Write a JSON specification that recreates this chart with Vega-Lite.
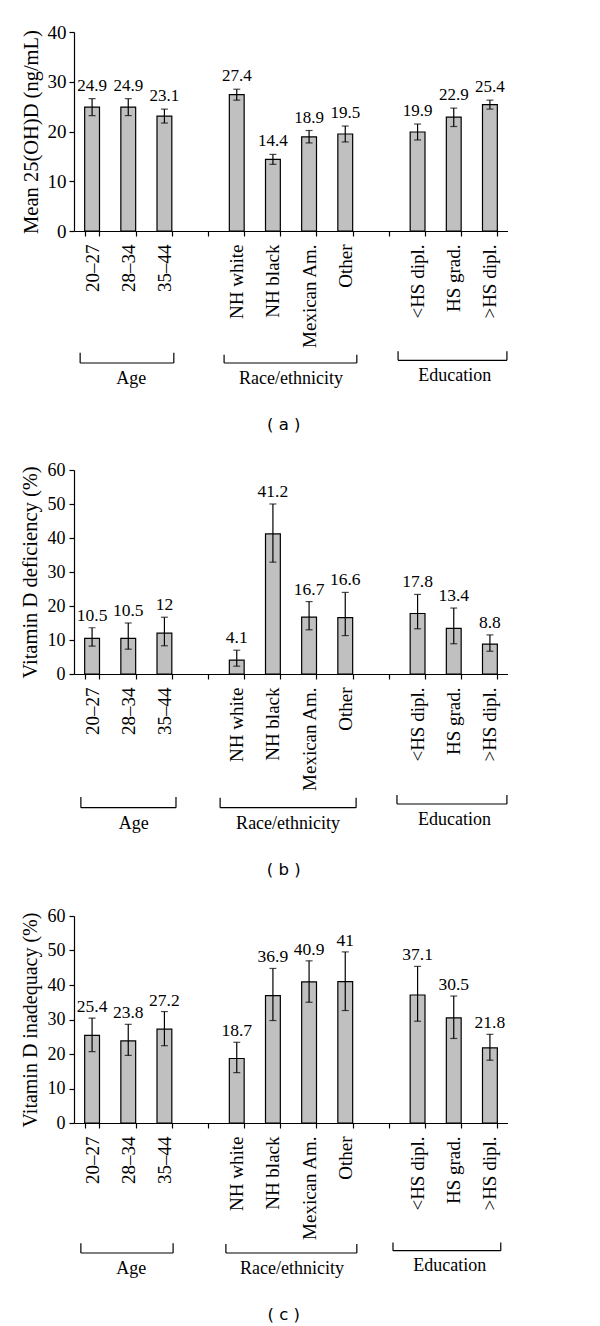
{
  "$schema": "https://vega.github.io/schema/vega-lite/v6.json",
  "padding": {"left": 20, "top": 23, "right": 0, "bottom": 0},
  "spacing": 0,
  "background": "white",
  "config": {
    "view": {"stroke": null},
    "font": "Liberation Serif",
    "axis": {"domainColor": "black", "tickColor": "black", "labelColor": "black", "titleColor": "black", "grid": false, "labelFont": "Liberation Serif", "titleFont": "Liberation Serif", "titleFontWeight": "normal", "domainWidth": 1.2, "tickWidth": 1.2}
  },
  "resolve": {"scale": {"x": "independent", "y": "independent"}},
  "datasets": {
    "bars": [
      {"panel": "a", "cat": "20–27", "value": 24.9, "lo": 23.2, "hi": 26.6, "label": "24.9"},
      {"panel": "a", "cat": "28–34", "value": 24.9, "lo": 23.2, "hi": 26.6, "label": "24.9"},
      {"panel": "a", "cat": "35–44", "value": 23.1, "lo": 21.7, "hi": 24.5, "label": "23.1"},
      {"panel": "a", "cat": "NH white", "value": 27.4, "lo": 26.3, "hi": 28.5, "label": "27.4"},
      {"panel": "a", "cat": "NH black", "value": 14.4, "lo": 13.4, "hi": 15.4, "label": "14.4"},
      {"panel": "a", "cat": "Mexican Am.", "value": 18.9, "lo": 17.7, "hi": 20.2, "label": "18.9"},
      {"panel": "a", "cat": "Other", "value": 19.5, "lo": 17.9, "hi": 21.1, "label": "19.5"},
      {"panel": "a", "cat": "<HS dipl.", "value": 19.9, "lo": 18.3, "hi": 21.5, "label": "19.9"},
      {"panel": "a", "cat": "HS grad.", "value": 22.9, "lo": 21.0, "hi": 24.7, "label": "22.9"},
      {"panel": "a", "cat": ">HS dipl.", "value": 25.4, "lo": 24.5, "hi": 26.3, "label": "25.4"},
      {"panel": "b", "cat": "20–27", "value": 10.5, "lo": 8.2, "hi": 13.6, "label": "10.5"},
      {"panel": "b", "cat": "28–34", "value": 10.5, "lo": 7.3, "hi": 15.0, "label": "10.5"},
      {"panel": "b", "cat": "35–44", "value": 12, "lo": 8.3, "hi": 16.7, "label": "12"},
      {"panel": "b", "cat": "NH white", "value": 4.1, "lo": 2.3, "hi": 7.0, "label": "4.1"},
      {"panel": "b", "cat": "NH black", "value": 41.2, "lo": 32.9, "hi": 50.0, "label": "41.2"},
      {"panel": "b", "cat": "Mexican Am.", "value": 16.7, "lo": 13.0, "hi": 21.3, "label": "16.7"},
      {"panel": "b", "cat": "Other", "value": 16.6, "lo": 11.3, "hi": 24.0, "label": "16.6"},
      {"panel": "b", "cat": "<HS dipl.", "value": 17.8, "lo": 13.3, "hi": 23.4, "label": "17.8"},
      {"panel": "b", "cat": "HS grad.", "value": 13.4, "lo": 8.9, "hi": 19.4, "label": "13.4"},
      {"panel": "b", "cat": ">HS dipl.", "value": 8.8, "lo": 6.7, "hi": 11.5, "label": "8.8"},
      {"panel": "c", "cat": "20–27", "value": 25.4, "lo": 20.7, "hi": 30.4, "label": "25.4"},
      {"panel": "c", "cat": "28–34", "value": 23.8, "lo": 19.6, "hi": 28.6, "label": "23.8"},
      {"panel": "c", "cat": "35–44", "value": 27.2, "lo": 22.4, "hi": 32.3, "label": "27.2"},
      {"panel": "c", "cat": "NH white", "value": 18.7, "lo": 14.6, "hi": 23.4, "label": "18.7"},
      {"panel": "c", "cat": "NH black", "value": 36.9, "lo": 29.7, "hi": 44.8, "label": "36.9"},
      {"panel": "c", "cat": "Mexican Am.", "value": 40.9, "lo": 35.0, "hi": 47.0, "label": "40.9"},
      {"panel": "c", "cat": "Other", "value": 41, "lo": 32.6, "hi": 49.6, "label": "41"},
      {"panel": "c", "cat": "<HS dipl.", "value": 37.1, "lo": 29.5, "hi": 45.4, "label": "37.1"},
      {"panel": "c", "cat": "HS grad.", "value": 30.5, "lo": 24.5, "hi": 36.8, "label": "30.5"},
      {"panel": "c", "cat": ">HS dipl.", "value": 21.8, "lo": 18.2, "hi": 25.7, "label": "21.8"}
    ],
    "brackets": [
      {"panel": "a", "x1": 0.17, "x2": 2.76, "y1": 14, "y2": 14},
      {"panel": "a", "x1": 0.17, "x2": 0.17, "y1": 3.7, "y2": 14},
      {"panel": "a", "x1": 2.76, "x2": 2.76, "y1": 3.7, "y2": 14},
      {"panel": "a", "x1": 4.15, "x2": 7.82, "y1": 14, "y2": 14},
      {"panel": "a", "x1": 4.15, "x2": 4.15, "y1": 5.7, "y2": 14},
      {"panel": "a", "x1": 7.82, "x2": 7.82, "y1": 5.7, "y2": 14},
      {"panel": "a", "x1": 8.96, "x2": 11.97, "y1": 11.3, "y2": 11.3},
      {"panel": "a", "x1": 8.96, "x2": 8.96, "y1": 2.3, "y2": 11.3},
      {"panel": "a", "x1": 11.97, "x2": 11.97, "y1": 2.3, "y2": 11.3},
      {"panel": "b", "x1": 0.19, "x2": 2.82, "y1": 15.7, "y2": 15.7},
      {"panel": "b", "x1": 0.19, "x2": 0.19, "y1": 5, "y2": 15.7},
      {"panel": "b", "x1": 2.82, "x2": 2.82, "y1": 5, "y2": 15.7},
      {"panel": "b", "x1": 4.04, "x2": 7.8, "y1": 15.7, "y2": 15.7},
      {"panel": "b", "x1": 4.04, "x2": 4.04, "y1": 5.7, "y2": 15.7},
      {"panel": "b", "x1": 7.8, "x2": 7.8, "y1": 5.7, "y2": 15.7},
      {"panel": "b", "x1": 8.93, "x2": 11.97, "y1": 12, "y2": 12},
      {"panel": "b", "x1": 8.93, "x2": 8.93, "y1": 3, "y2": 12},
      {"panel": "b", "x1": 11.97, "x2": 11.97, "y1": 3, "y2": 12},
      {"panel": "c", "x1": 0.19, "x2": 2.74, "y1": 11, "y2": 11},
      {"panel": "c", "x1": 0.19, "x2": 0.19, "y1": 1.3, "y2": 11},
      {"panel": "c", "x1": 2.74, "x2": 2.74, "y1": 1.3, "y2": 11},
      {"panel": "c", "x1": 4.2, "x2": 7.82, "y1": 11, "y2": 11},
      {"panel": "c", "x1": 4.2, "x2": 4.2, "y1": 2, "y2": 11},
      {"panel": "c", "x1": 7.82, "x2": 7.82, "y1": 2, "y2": 11},
      {"panel": "c", "x1": 8.82, "x2": 11.8, "y1": 8.7, "y2": 8.7},
      {"panel": "c", "x1": 8.82, "x2": 8.82, "y1": 0.5, "y2": 8.7},
      {"panel": "c", "x1": 11.8, "x2": 11.8, "y1": 0.5, "y2": 8.7}
    ],
    "labels": [
      {"panel": "a", "kind": "group", "x": 1.58, "y": 30, "text": "Age"},
      {"panel": "a", "kind": "group", "x": 6.0, "y": 30, "text": "Race/ethnicity"},
      {"panel": "a", "kind": "group", "x": 10.53, "y": 27.3, "text": "Education"},
      {"panel": "a", "kind": "caption", "x": 5.8, "y": 76, "text": "( a )"},
      {"panel": "b", "kind": "group", "x": 1.65, "y": 32, "text": "Age"},
      {"panel": "b", "kind": "group", "x": 5.92, "y": 32, "text": "Race/ethnicity"},
      {"panel": "b", "kind": "group", "x": 10.52, "y": 28, "text": "Education"},
      {"panel": "b", "kind": "caption", "x": 5.8, "y": 78, "text": "( b )"},
      {"panel": "c", "kind": "group", "x": 1.58, "y": 27, "text": "Age"},
      {"panel": "c", "kind": "group", "x": 6.03, "y": 27, "text": "Race/ethnicity"},
      {"panel": "c", "kind": "group", "x": 10.39, "y": 23.7, "text": "Education"},
      {"panel": "c", "kind": "caption", "x": 5.8, "y": 73, "text": "( c )"}
    ]
  },
  "vconcat": [
    {
      "width": 434, "height": 199,
      "data": {"name": "bars"},
      "transform": [{"filter": "datum.panel === 'a'"}],
      "encoding": {
        "x": {"field": "cat", "type": "nominal", "sort": null,
          "scale": {"domain": ["20–27", "28–34", "35–44", "gap1", "NH white", "NH black", "Mexican Am.", "Other", "gap2", "<HS dipl.", "HS grad.", ">HS dipl."], "paddingInner": 0.59, "paddingOuter": 0.295},
          "axis": {"title": null, "labelAngle": -90, "labelFontSize": 19, "labelPadding": 8, "tickSize": 5, "tickBand": "extent", "labelOverlap": false, "labelExpr": "indexof(datum.label, 'gap') === 0 ? '' : datum.label"}}
      },
      "layer": [
        {"mark": {"type": "bar", "fill": "#c0c0c0", "stroke": "black", "strokeWidth": 1.2},
         "encoding": {"y": {"field": "value", "type": "quantitative", "scale": {"domain": [0, 40], "nice": false},
           "axis": {"title": "Mean 25(OH)D (ng/mL)", "titleFontSize": 20.5, "labelFontSize": 19, "values": [0, 10, 20, 30, 40], "labelOverlap": false, "tickSize": 5, "labelPadding": 3, "titlePadding": 6}}}},
        {"mark": {"type": "rule", "color": "black", "strokeWidth": 1.2},
         "encoding": {"y": {"field": "lo", "type": "quantitative", "axis": {"title": "Mean 25(OH)D (ng/mL)", "titleFontSize": 20.5, "labelFontSize": 19, "values": [0, 10, 20, 30, 40], "labelOverlap": false, "tickSize": 5, "labelPadding": 3, "titlePadding": 6}}, "y2": {"field": "hi"}}},
        {"mark": {"type": "tick", "color": "black", "size": 7, "thickness": 1.2},
         "encoding": {"y": {"field": "lo", "type": "quantitative", "axis": {"title": "Mean 25(OH)D (ng/mL)", "titleFontSize": 20.5, "labelFontSize": 19, "values": [0, 10, 20, 30, 40], "labelOverlap": false, "tickSize": 5, "labelPadding": 3, "titlePadding": 6}}}},
        {"mark": {"type": "tick", "color": "black", "size": 7, "thickness": 1.2},
         "encoding": {"y": {"field": "hi", "type": "quantitative", "axis": {"title": "Mean 25(OH)D (ng/mL)", "titleFontSize": 20.5, "labelFontSize": 19, "values": [0, 10, 20, 30, 40], "labelOverlap": false, "tickSize": 5, "labelPadding": 3, "titlePadding": 6}}}},
        {"mark": {"type": "text", "baseline": "alphabetic", "dy": -8, "fontSize": 17, "font": "Liberation Serif", "color": "black"},
         "encoding": {"y": {"field": "hi", "type": "quantitative", "axis": {"title": "Mean 25(OH)D (ng/mL)", "titleFontSize": 20.5, "labelFontSize": 19, "values": [0, 10, 20, 30, 40], "labelOverlap": false, "tickSize": 5, "labelPadding": 3, "titlePadding": 6}}, "text": {"field": "label"}}}
      ]
    },
    {
      "width": 434, "height": 112,
      "layer": [
        {"data": {"name": "brackets"}, "transform": [{"filter": "datum.panel === 'a'"}],
         "mark": {"type": "rule", "color": "black", "strokeWidth": 1.2},
         "encoding": {
           "x": {"field": "x1", "type": "quantitative", "scale": {"domain": [0, 12], "nice": false, "zero": false}, "axis": null},
           "x2": {"field": "x2"},
           "y": {"field": "y1", "type": "quantitative", "scale": {"domain": [0, 112], "reverse": true, "nice": false, "zero": false}, "axis": null},
           "y2": {"field": "y2"}}},
        {"data": {"name": "labels"}, "transform": [{"filter": "datum.panel === 'a' && datum.kind === 'group'"}],
         "mark": {"type": "text", "fontSize": 18, "font": "Liberation Serif", "baseline": "middle", "color": "black"},
         "encoding": {"x": {"field": "x", "type": "quantitative"}, "y": {"field": "y", "type": "quantitative"}, "text": {"field": "text"}}},
        {"data": {"name": "labels"}, "transform": [{"filter": "datum.panel === 'a' && datum.kind === 'caption'"}],
         "mark": {"type": "text", "fontSize": 16.5, "font": "DejaVu Sans", "baseline": "middle", "color": "black"},
         "encoding": {"x": {"field": "x", "type": "quantitative"}, "y": {"field": "y", "type": "quantitative"}, "text": {"field": "text"}}}
      ]
    },
    {
      "width": 434, "height": 204,
      "data": {"name": "bars"},
      "transform": [{"filter": "datum.panel === 'b'"}],
      "encoding": {
        "x": {"field": "cat", "type": "nominal", "sort": null,
          "scale": {"domain": ["20–27", "28–34", "35–44", "gap1", "NH white", "NH black", "Mexican Am.", "Other", "gap2", "<HS dipl.", "HS grad.", ">HS dipl."], "paddingInner": 0.59, "paddingOuter": 0.295},
          "axis": {"title": null, "labelAngle": -90, "labelFontSize": 19, "labelPadding": 8, "tickSize": 5, "tickBand": "extent", "labelOverlap": false, "labelExpr": "indexof(datum.label, 'gap') === 0 ? '' : datum.label"}}
      },
      "layer": [
        {"mark": {"type": "bar", "fill": "#c0c0c0", "stroke": "black", "strokeWidth": 1.2},
         "encoding": {"y": {"field": "value", "type": "quantitative", "scale": {"domain": [0, 60], "nice": false},
           "axis": {"title": "Vitamin D deficiency (%)", "titleFontSize": 20.5, "labelFontSize": 18, "values": [0, 10, 20, 30, 40, 50, 60], "labelOverlap": false, "tickSize": 5, "labelPadding": 4, "titlePadding": 7}}}},
        {"mark": {"type": "rule", "color": "black", "strokeWidth": 1.2},
         "encoding": {"y": {"field": "lo", "type": "quantitative", "axis": {"title": "Vitamin D deficiency (%)", "titleFontSize": 20.5, "labelFontSize": 18, "values": [0, 10, 20, 30, 40, 50, 60], "labelOverlap": false, "tickSize": 5, "labelPadding": 4, "titlePadding": 7}}, "y2": {"field": "hi"}}},
        {"mark": {"type": "tick", "color": "black", "size": 7, "thickness": 1.2},
         "encoding": {"y": {"field": "lo", "type": "quantitative", "axis": {"title": "Vitamin D deficiency (%)", "titleFontSize": 20.5, "labelFontSize": 18, "values": [0, 10, 20, 30, 40, 50, 60], "labelOverlap": false, "tickSize": 5, "labelPadding": 4, "titlePadding": 7}}}},
        {"mark": {"type": "tick", "color": "black", "size": 7, "thickness": 1.2},
         "encoding": {"y": {"field": "hi", "type": "quantitative", "axis": {"title": "Vitamin D deficiency (%)", "titleFontSize": 20.5, "labelFontSize": 18, "values": [0, 10, 20, 30, 40, 50, 60], "labelOverlap": false, "tickSize": 5, "labelPadding": 4, "titlePadding": 7}}}},
        {"mark": {"type": "text", "baseline": "alphabetic", "dy": -7, "fontSize": 17.5, "font": "Liberation Serif", "color": "black"},
         "encoding": {"y": {"field": "hi", "type": "quantitative", "axis": {"title": "Vitamin D deficiency (%)", "titleFontSize": 20.5, "labelFontSize": 18, "values": [0, 10, 20, 30, 40, 50, 60], "labelOverlap": false, "tickSize": 5, "labelPadding": 4, "titlePadding": 7}}, "text": {"field": "label"}}}
      ]
    },
    {
      "width": 434, "height": 115,
      "layer": [
        {"data": {"name": "brackets"}, "transform": [{"filter": "datum.panel === 'b'"}],
         "mark": {"type": "rule", "color": "black", "strokeWidth": 1.2},
         "encoding": {
           "x": {"field": "x1", "type": "quantitative", "scale": {"domain": [0, 12], "nice": false, "zero": false}, "axis": null},
           "x2": {"field": "x2"},
           "y": {"field": "y1", "type": "quantitative", "scale": {"domain": [0, 115], "reverse": true, "nice": false, "zero": false}, "axis": null},
           "y2": {"field": "y2"}}},
        {"data": {"name": "labels"}, "transform": [{"filter": "datum.panel === 'b' && datum.kind === 'group'"}],
         "mark": {"type": "text", "fontSize": 18, "font": "Liberation Serif", "baseline": "middle", "color": "black"},
         "encoding": {"x": {"field": "x", "type": "quantitative"}, "y": {"field": "y", "type": "quantitative"}, "text": {"field": "text"}}},
        {"data": {"name": "labels"}, "transform": [{"filter": "datum.panel === 'b' && datum.kind === 'caption'"}],
         "mark": {"type": "text", "fontSize": 16.5, "font": "DejaVu Sans", "baseline": "middle", "color": "black"},
         "encoding": {"x": {"field": "x", "type": "quantitative"}, "y": {"field": "y", "type": "quantitative"}, "text": {"field": "text"}}}
      ]
    },
    {
      "width": 434, "height": 207,
      "data": {"name": "bars"},
      "transform": [{"filter": "datum.panel === 'c'"}],
      "encoding": {
        "x": {"field": "cat", "type": "nominal", "sort": null,
          "scale": {"domain": ["20–27", "28–34", "35–44", "gap1", "NH white", "NH black", "Mexican Am.", "Other", "gap2", "<HS dipl.", "HS grad.", ">HS dipl."], "paddingInner": 0.59, "paddingOuter": 0.295},
          "axis": {"title": null, "labelAngle": -90, "labelFontSize": 19, "labelPadding": 8, "tickSize": 5, "tickBand": "extent", "labelOverlap": false, "labelExpr": "indexof(datum.label, 'gap') === 0 ? '' : datum.label"}}
      },
      "layer": [
        {"mark": {"type": "bar", "fill": "#c0c0c0", "stroke": "black", "strokeWidth": 1.2},
         "encoding": {"y": {"field": "value", "type": "quantitative", "scale": {"domain": [0, 60], "nice": false},
           "axis": {"title": "Vitamin D inadequacy (%)", "titleFontSize": 20, "labelFontSize": 18, "values": [0, 10, 20, 30, 40, 50, 60], "labelOverlap": false, "tickSize": 5, "labelPadding": 4, "titlePadding": 7}}}},
        {"mark": {"type": "rule", "color": "black", "strokeWidth": 1.2},
         "encoding": {"y": {"field": "lo", "type": "quantitative", "axis": {"title": "Vitamin D inadequacy (%)", "titleFontSize": 20, "labelFontSize": 18, "values": [0, 10, 20, 30, 40, 50, 60], "labelOverlap": false, "tickSize": 5, "labelPadding": 4, "titlePadding": 7}}, "y2": {"field": "hi"}}},
        {"mark": {"type": "tick", "color": "black", "size": 7, "thickness": 1.2},
         "encoding": {"y": {"field": "lo", "type": "quantitative", "axis": {"title": "Vitamin D inadequacy (%)", "titleFontSize": 20, "labelFontSize": 18, "values": [0, 10, 20, 30, 40, 50, 60], "labelOverlap": false, "tickSize": 5, "labelPadding": 4, "titlePadding": 7}}}},
        {"mark": {"type": "tick", "color": "black", "size": 7, "thickness": 1.2},
         "encoding": {"y": {"field": "hi", "type": "quantitative", "axis": {"title": "Vitamin D inadequacy (%)", "titleFontSize": 20, "labelFontSize": 18, "values": [0, 10, 20, 30, 40, 50, 60], "labelOverlap": false, "tickSize": 5, "labelPadding": 4, "titlePadding": 7}}}},
        {"mark": {"type": "text", "baseline": "alphabetic", "dy": -6, "fontSize": 17.5, "font": "Liberation Serif", "color": "black"},
         "encoding": {"y": {"field": "hi", "type": "quantitative", "axis": {"title": "Vitamin D inadequacy (%)", "titleFontSize": 20, "labelFontSize": 18, "values": [0, 10, 20, 30, 40, 50, 60], "labelOverlap": false, "tickSize": 5, "labelPadding": 4, "titlePadding": 7}}, "text": {"field": "label"}}}
      ]
    },
    {
      "width": 434, "height": 86,
      "layer": [
        {"data": {"name": "brackets"}, "transform": [{"filter": "datum.panel === 'c'"}],
         "mark": {"type": "rule", "color": "black", "strokeWidth": 1.2},
         "encoding": {
           "x": {"field": "x1", "type": "quantitative", "scale": {"domain": [0, 12], "nice": false, "zero": false}, "axis": null},
           "x2": {"field": "x2"},
           "y": {"field": "y1", "type": "quantitative", "scale": {"domain": [0, 86], "reverse": true, "nice": false, "zero": false}, "axis": null},
           "y2": {"field": "y2"}}},
        {"data": {"name": "labels"}, "transform": [{"filter": "datum.panel === 'c' && datum.kind === 'group'"}],
         "mark": {"type": "text", "fontSize": 18, "font": "Liberation Serif", "baseline": "middle", "color": "black"},
         "encoding": {"x": {"field": "x", "type": "quantitative"}, "y": {"field": "y", "type": "quantitative"}, "text": {"field": "text"}}},
        {"data": {"name": "labels"}, "transform": [{"filter": "datum.panel === 'c' && datum.kind === 'caption'"}],
         "mark": {"type": "text", "fontSize": 16.5, "font": "DejaVu Sans", "baseline": "middle", "color": "black"},
         "encoding": {"x": {"field": "x", "type": "quantitative"}, "y": {"field": "y", "type": "quantitative"}, "text": {"field": "text"}}}
      ]
    }
  ]
}
